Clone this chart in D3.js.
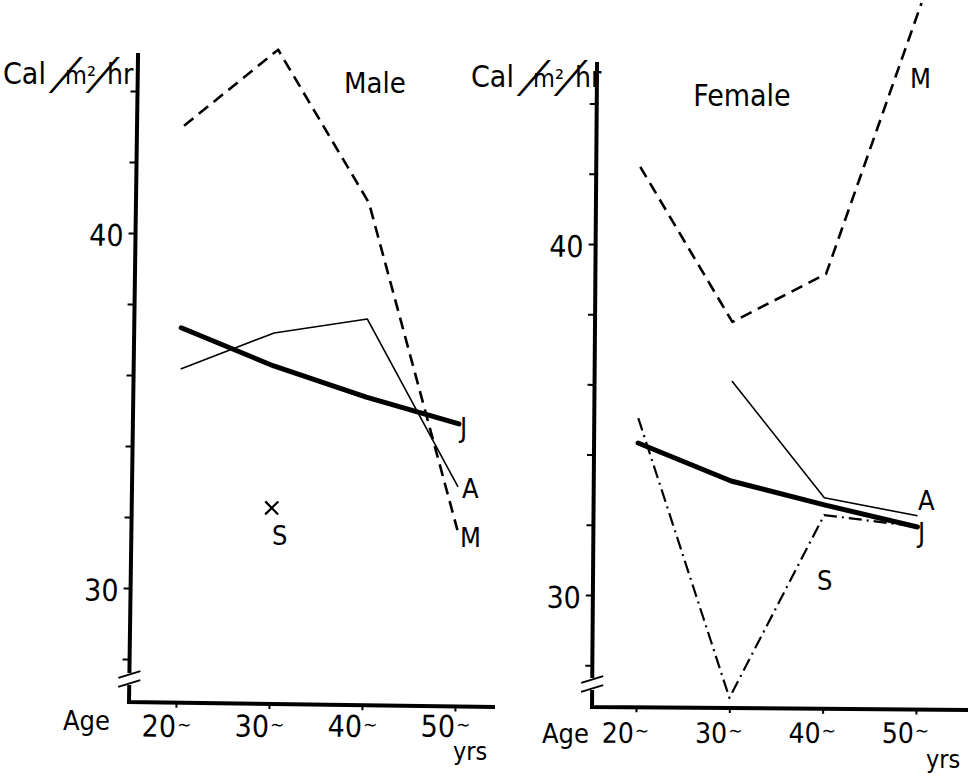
<!DOCTYPE html>
<html>
<head>
<meta charset="utf-8">
<script src="https://cdn.jsdelivr.net/npm/d3@7"></script>
<style>
  html, body { margin: 0; padding: 0; background: #fff; }
  svg text { font-family: "DejaVu Sans Condensed", "DejaVu Sans", sans-serif; font-stretch: condensed; fill: #000; }
</style>
</head>
<body>
<svg id="chart" width="968" height="778"></svg>
<script>
// Age groups (x categories) and y-axis ticks
const ages = ["20~", "30~", "40~", "50~"];
const labelledTicks = [30, 40];
const yTicks = [28, 30, 32, 34, 36, 38, 40, 42, 44];

// Basal metabolism, Cal/m²/hr — male
const maleJ = [37.35, 36.31, 35.47, 34.75];
const maleA = [36.19, 37.24, 37.67, 32.98];
const maleM = [43.04, 45.22, 40.94, 31.76];
const maleS = [null, 32.31, null, null];

// Basal metabolism, Cal/m²/hr — female
const femaleJ = [34.34, 33.28, 32.62, 32.01];
const femaleA = [null, 36.13, 32.82, 32.33];
const femaleM = [42.21, 37.81, 39.20, 46.94];
const femaleS = [35.05, 27.10, 32.33, 32.02];

const svg = d3.select("#chart");

const lineStyles = {
  J: { width: 5, dash: null, cap: "round" },
  A: { width: 1.6, dash: null, cap: "butt" },
  M: { width: 2.6, dash: "12,7", cap: "butt" },
  S: { width: 2.2, dash: "13,5,2,5", cap: "butt" }
};

const panels = [
  {
    title: "Male", titleX: 375, titleY: 93, titleSize: 29,
    cx: 129, cy: 702, angle: 0.8,
    xRange: [47, 326], xEnd: 366,
    yRange: [-114, -469], yTop: -649,
    tickFont: 30, tickBase: 35,
    unitX: 3, unitY: 84,
    ageX: 63, ageY: 730, yrsX: 453, yrsY: 760,
    series: { J: maleJ, A: maleA, M: maleM, S: maleS },
    labels: [["J", 460, 437], ["A", 462, 498], ["M", 460, 547], ["S", 272, 545]]
  },
  {
    title: "Female", titleX: 742, titleY: 106, titleSize: 30,
    cx: 592, cy: 707, angle: 0.45,
    xRange: [44, 324], xEnd: 380,
    yRange: [-112, -463], yTop: -645,
    tickFont: 28, tickBase: 36,
    unitX: 471, unitY: 87,
    ageX: 542, ageY: 743, yrsX: 926, yrsY: 768,
    series: { J: femaleJ, A: femaleA, M: femaleM, S: femaleS },
    labels: [["M", 910, 88], ["A", 918, 510], ["J", 918, 542], ["S", 817, 590]]
  }
];

// "Cal/m²/hr" unit label, with long slanted slashes
function unitLabel(x0, y0) {
  const u = svg.append("g").attr("transform", `translate(${x0},${y0})`);
  u.append("text").attr("font-size", 30).text("Cal");
  u.append("text").attr("font-size", 44)
    .attr("transform", "translate(48,5) skewX(-30)").text("/");
  u.append("text").attr("x", 62).attr("font-size", 25).text("m²");
  u.append("text").attr("font-size", 44)
    .attr("transform", "translate(85,5) skewX(-30)").text("/");
  u.append("text").attr("x", 104).attr("font-size", 28).text("hr");
}

function drawPanel(p) {
  const sin = Math.sin(p.angle * Math.PI / 180);
  const g = svg.append("g")
    .attr("transform", `translate(${p.cx},${p.cy}) rotate(${p.angle})`);

  const x = d3.scalePoint().domain(ages).range(p.xRange);
  const y = d3.scaleLinear().domain([30, 40]).range(p.yRange);

  // y axis ticks and labels
  const ya = g.append("g").call(
    d3.axisLeft(y).tickValues(yTicks).tickSize(7).tickPadding(5)
      .tickFormat(d => labelledTicks.includes(d) ? d : "")
  );
  ya.select(".domain").remove();
  ya.selectAll(".tick line").attr("stroke", "#000").attr("stroke-width", 2);
  ya.selectAll(".tick text").attr("font-size", 30).attr("dy", "0.42em");

  // x axis ticks
  const xa = g.append("g").call(d3.axisBottom(x).tickSize(5).tickFormat(""));
  xa.select(".domain").remove();
  xa.selectAll(".tick line").attr("stroke", "#000").attr("stroke-width", 2);

  // x tick labels, kept level with the page
  ages.forEach(a => {
    const t = g.append("text")
      .attr("x", x(a) - 34)
      .attr("y", p.tickBase - x(a) * sin)
      .attr("font-size", p.tickFont);
    t.append("tspan").text(a.replace("~", ""));
    t.append("tspan").attr("font-size", 19).attr("dx", 1).attr("dy", -6).text("~");
  });

  // axis lines with a break near the bottom
  const brkLow = -19, brkHigh = -28;
  g.append("path")
    .attr("d", `M0,${brkLow + 2}L0,0L${p.xEnd},0`)
    .attr("fill", "none").attr("stroke", "#000").attr("stroke-width", 4)
    .attr("stroke-linejoin", "miter");
  g.append("path")
    .attr("d", `M0,${brkHigh - 1}L0,${p.yTop}`)
    .attr("fill", "none").attr("stroke", "#000").attr("stroke-width", 4);
  [brkLow, brkHigh].forEach(b => {
    g.append("line")
      .attr("x1", -11).attr("y1", b + 4).attr("x2", 11).attr("y2", b - 3)
      .attr("stroke", "#000").attr("stroke-width", 2);
  });

  // series lines
  const line = d3.line()
    .defined(d => d != null)
    .x((d, i) => x(ages[i]))
    .y(d => y(d));

  ["M", "S", "A", "J"].forEach(k => {
    const vals = p.series[k];
    const n = vals.filter(v => v != null).length;
    const st = lineStyles[k];
    if (n > 1) {
      g.append("path")
        .datum(vals)
        .attr("d", line)
        .attr("fill", "none")
        .attr("stroke", "#000")
        .attr("stroke-width", st.width)
        .attr("stroke-linecap", st.cap)
        .attr("stroke-linejoin", "round")
        .attr("stroke-dasharray", st.dash);
    } else {
      // single observation: cross marker
      vals.forEach((v, i) => {
        if (v == null) return;
        const px = x(ages[i]), py = y(v), r = 6.5;
        g.append("path")
          .attr("d", `M${px - r},${py - r}L${px + r},${py + r}M${px + r},${py - r}L${px - r},${py + r}`)
          .attr("stroke", "#000").attr("stroke-width", 2.2).attr("fill", "none");
      });
    }
  });

  // titles and labels
  svg.append("text").attr("x", p.titleX).attr("y", p.titleY)
    .attr("text-anchor", "middle").attr("font-size", p.titleSize).text(p.title);
  p.labels.forEach(([t, lx, ly]) => {
    svg.append("text").attr("x", lx).attr("y", ly).attr("font-size", 27).text(t);
  });
  unitLabel(p.unitX, p.unitY);
  svg.append("text").attr("x", p.ageX).attr("y", p.ageY).attr("font-size", 27).text("Age");
  svg.append("text").attr("x", p.yrsX).attr("y", p.yrsY).attr("font-size", 25).text("yrs");
}

panels.forEach(drawPanel);
</script>
</body>
</html>
